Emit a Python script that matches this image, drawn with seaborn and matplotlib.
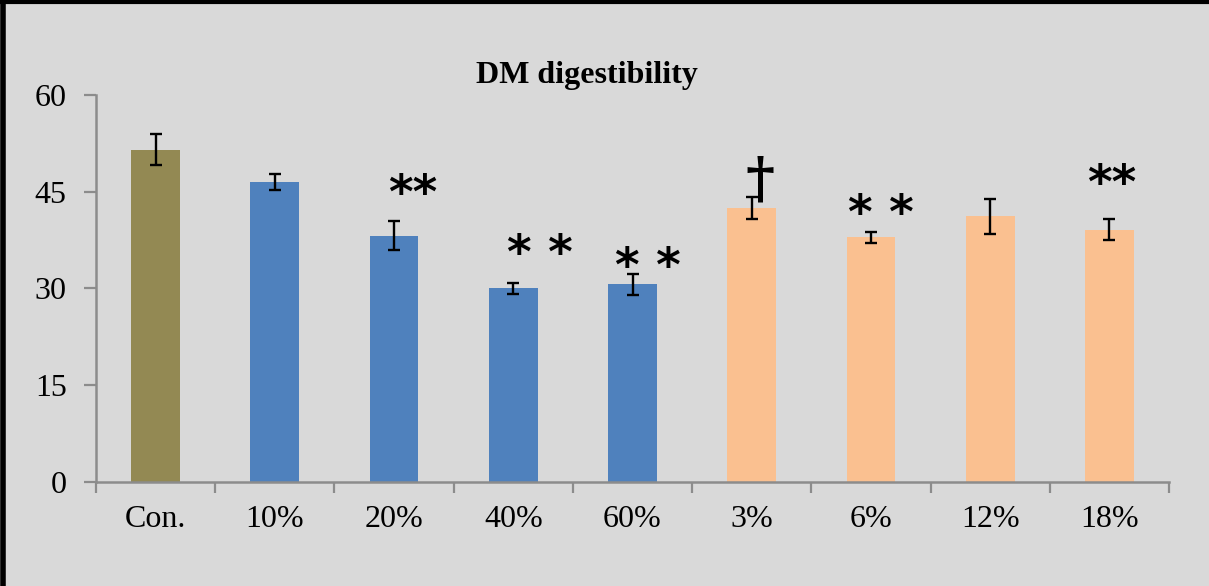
import matplotlib
matplotlib.use("Agg")
import matplotlib.pyplot as plt
from matplotlib.lines import Line2D
from matplotlib.ticker import FixedLocator, NullFormatter
import seaborn as sns
import pandas as pd

# --- data -------------------------------------------------------------
groups = ["Con.", "10%", "20%", "40%", "60%", "3%", "6%", "12%", "18%"]
treatment = ["Control", "A", "A", "A", "A", "B", "B", "B", "B"]
means = [51.5, 46.5, 38.2, 30.0, 30.6, 42.4, 37.9, 41.2, 39.1]
sem = [2.4, 1.3, 2.3, 0.9, 1.6, 1.7, 0.9, 2.7, 1.65]
marks = ["", "", "**", "* *", "* *", "\u2020", "* *", "", "**"]
y_ticks = [0, 15, 30, 45, 60]

# --- annotation placement (x offset from bar centre, y in data units) ---
mark_dx = [0, 0, 0.16, 0.22, 0.125, 0.07, 0.08, 0, 0.02]
mark_y = [0, 0, 44.4, 35.1, 33.1, 46.6, 41.3, 0, 45.9]

df = pd.DataFrame({"group": groups, "treatment": treatment,
                   "mean": means, "sem": sem})

BG = "#D9D9D9"
AXIS = "#8C8C8C"
palette = {"Control": "#938953", "A": "#4F81BD", "B": "#FAC090"}

sns.set_theme(style="white")
plt.rcParams["font.family"] = ["Liberation Serif", "DejaVu Serif"]

fig = plt.figure(figsize=(12.09, 5.86), dpi=100, facecolor=BG)
ax = fig.add_axes([96 / 1209, 1 - 481.7 / 586, (1169 - 96) / 1209, (481.7 - 95) / 586])
ax.set_facecolor(BG)

sns.barplot(data=df, x="group", y="mean", hue="treatment", palette=palette,
            dodge=False, width=0.41, errorbar=None, legend=False,
            saturation=1, linewidth=0, edgecolor="none", ax=ax, order=groups)

xs = list(range(len(groups)))
ax.errorbar(xs, means, yerr=sem, fmt="none", ecolor="black",
            elinewidth=1.7, capsize=4.3, capthick=1.7, zorder=5)

for i, m in enumerate(marks):
    if not m:
        continue
    if m == "\u2020":
        ax.text(i + mark_dx[i], mark_y[i], m, ha="center", va="center",
                fontsize=40, fontweight="bold", family="DejaVu Serif",
                color="black", zorder=6)
    else:
        ax.text(i + mark_dx[i], mark_y[i], m, ha="center", va="center",
                fontsize=34, fontweight="bold", family="DejaVu Sans",
                color="black", zorder=6)

ax.set_xlim(-0.5, len(groups) - 0.5)
ax.set_ylim(0, 60)
ax.set_yticks(y_ticks)
ax.set_xlabel("")
ax.set_ylabel("")

# category boundaries carry the x tick marks, labels sit at the centres
ax.xaxis.set_minor_locator(FixedLocator([i - 0.5 for i in range(len(groups) + 1)]))
ax.xaxis.set_minor_formatter(NullFormatter())
ax.tick_params(axis="x", which="major", length=0, pad=17, labelsize=23, labelcolor="black")
ax.tick_params(axis="x", which="minor", length=8, width=1.6, color=AXIS, direction="out", bottom=True)
ax.tick_params(axis="y", which="major", length=9, width=1.6, color=AXIS, direction="out",
               pad=12, labelsize=23, labelcolor="black", left=True)

for side in ("top", "right"):
    ax.spines[side].set_visible(False)
for side in ("left", "bottom"):
    ax.spines[side].set_color(AXIS)
    ax.spines[side].set_linewidth(1.8)

fig.text(587 / 1209, 1 - 75 / 586, "DM digestibility", ha="center", va="center",
         fontsize=23, fontweight="bold", color="black")

# chart frame
fig.add_artist(Line2D([3 / 1209, 3 / 1209], [0, 1], color="black", lw=4,
                      transform=fig.transFigure))
fig.add_artist(Line2D([0, 1], [1 - 1.5 / 586, 1 - 1.5 / 586], color="black", lw=3,
                      transform=fig.transFigure))

fig.savefig("out.png", dpi=100, facecolor=BG)
